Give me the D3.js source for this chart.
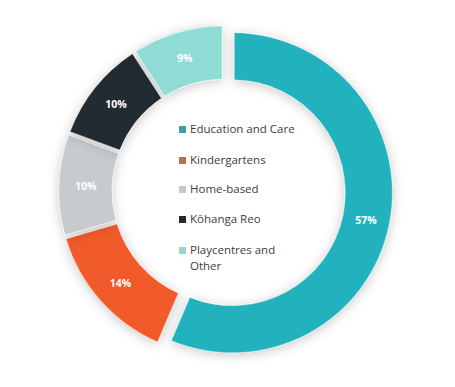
<!DOCTYPE html>
<html><head><meta charset="utf-8">
<script src="https://cdn.jsdelivr.net/npm/d3@7"></script>
<style>html,body{margin:0;padding:0;background:#fff;}svg{display:block;}</style>
</head><body>
<svg id="chart" width="455" height="387"></svg>
<script>
const categories = ["Education and Care", "Kindergartens", "Home-based", "Kōhanga Reo", "Playcentres and Other"];
const values = [57, 14, 10, 10, 9];
const labels = ["57%", "14%", "10%", "10%", "9%"];
const colors = ["#21b2bd", "#f15a2a", "#c8cbce", "#232b31", "#8fdcd5"];
const legendColors = ["#3a9fa2", "#b8714f", "#c6c8c9", "#252a2f", "#9ad5cd"];

const svg = d3.select("#chart");
const cx = 224, cy = 191;
const defs = svg.append("defs");
const f = defs.append("filter").attr("id","sh").attr("x","-30%").attr("y","-30%").attr("width","160%").attr("height","160%");
f.append("feDropShadow").attr("dx",0).attr("dy",2).attr("stdDeviation",6).attr("flood-color","#000").attr("flood-opacity",0.22);

const pie = d3.pie().sort(null).value(d => d).padAngle(0.02);
const arcs = pie(values);
const arcMain = d3.arc().innerRadius(113).outerRadius(160);
const arcOther = d3.arc().innerRadius(112).outerRadius(165);

const g = svg.append("g").attr("transform", `translate(${cx},${cy})`);
const explode = 8.5;
arcs.forEach((a, i) => {
  const arcGen = i === 0 ? arcMain : arcOther;
  const mid = (a.startAngle + a.endAngle) / 2;
  const off = i === 0 ? explode : 0;
  const dx = off * Math.sin(mid), dy = -off * Math.cos(mid);
  const sg = g.append("g").attr("transform", `translate(${dx},${dy})`);
  sg.append("path").attr("d", arcGen(a)).attr("fill", colors[i])
    .attr("stroke", "#ffffff").attr("stroke-opacity", 0.35).attr("stroke-width", 1)
    .attr("filter", "url(#sh)");
  const c = arcGen.centroid(a);
  sg.append("text").attr("x", c[0]).attr("y", c[1]).attr("dy", "0.35em")
    .attr("text-anchor", "middle").attr("fill", "#ffffff")
    .attr("font-family", "Open Sans, sans-serif").attr("font-weight", "bold").attr("font-size", 10.5)
    .text(labels[i]);
});

const legend = svg.append("g").attr("transform", "translate(179,129)");
const rowY = [0, 31, 60, 90, 121];
categories.forEach((name, i) => {
  const row = legend.append("g").attr("transform", `translate(0,${rowY[i]})`);
  row.append("rect").attr("x", 0).attr("y", -3).attr("width", 7).attr("height", 7).attr("fill", legendColors[i]);
  const words = name === "Playcentres and Other" ? ["Playcentres and", "Other"] : [name];
  const t = row.append("text").attr("x", 11).attr("y", 0)
    .attr("fill", "#3d3d3d").attr("font-family", "Open Sans, sans-serif").attr("font-size", 11.5);
  words.forEach((w, j) => t.append("tspan").attr("x", 11).attr("dy", j === 0 ? "0.35em" : "1.35em").text(w));
});
</script>
</body></html>
